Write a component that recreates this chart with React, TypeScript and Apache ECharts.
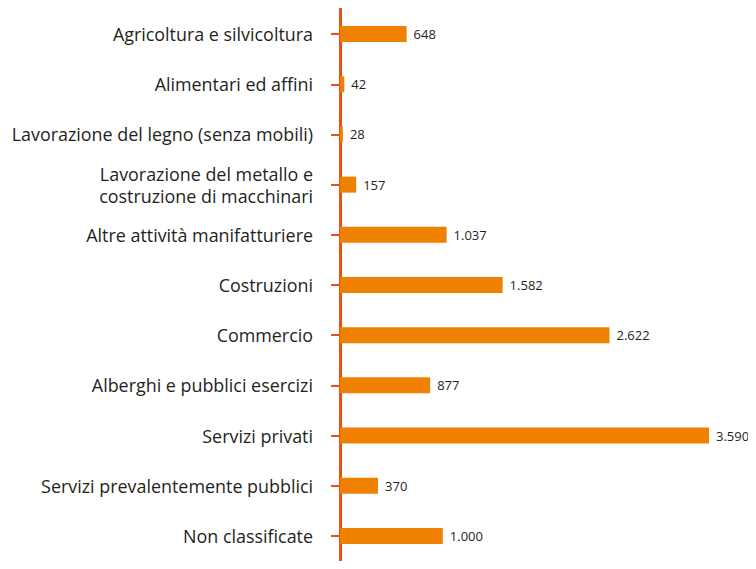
import React, { useEffect, useRef } from "react";
import * as echarts from "echarts";

const categories = [
  "Agricoltura e silvicoltura",
  "Alimentari ed affini",
  "Lavorazione del legno (senza mobili)",
  "Lavorazione del metallo e\ncostruzione di macchinari",
  "Altre attività manifatturiere",
  "Costruzioni",
  "Commercio",
  "Alberghi e pubblici esercizi",
  "Servizi privati",
  "Servizi prevalentemente pubblici",
  "Non classificate",
];
const values = [648, 42, 28, 157, 1037, 1582, 2622, 877, 3590, 370, 1000];

const fmt = (v: number) => String(v).replace(/\B(?=(\d{3})+(?!\d))/g, ".");

export default function App() {
  const ref = useRef<HTMLDivElement>(null);
  useEffect(() => {
    const chart = echarts.init(ref.current!, null, { renderer: "svg" });
    chart.setOption({
      animation: false,
      grid: { left: 332, right: 47, top: 1, bottom: -16, containLabel: false },
      xAxis: {
        type: "value",
        min: 0,
        max: 3590,
        show: false,
      },
      yAxis: {
        type: "category",
        data: categories,
        inverse: true,
        axisLine: { show: true, lineStyle: { color: "#E8501A", width: 3 } },
        axisTick: { show: true, alignWithLabel: true, length: 9, lineStyle: { color: "#E8501A", width: 2 } },
        axisLabel: {
          margin: 27,
          fontFamily: "Open Sans",
          fontSize: 17.9,
          color: "#231F20",
          lineHeight: 22,
        },
        splitLine: { show: false },
      },
      series: [
        {
          type: "bar",
          data: values,
          barWidth: 16,
          itemStyle: { color: "#F08000" },
          label: {
            show: true,
            position: "right",
            distance: 7,
            fontFamily: "Open Sans",
            fontSize: 13,
            color: "#231F20",
            formatter: (p: any) => fmt(p.value),
          },
        },
      ],
    });
    return () => chart.dispose();
  }, []);
  return <div ref={ref} style={{ width: 748, height: 553 }} />;
}
